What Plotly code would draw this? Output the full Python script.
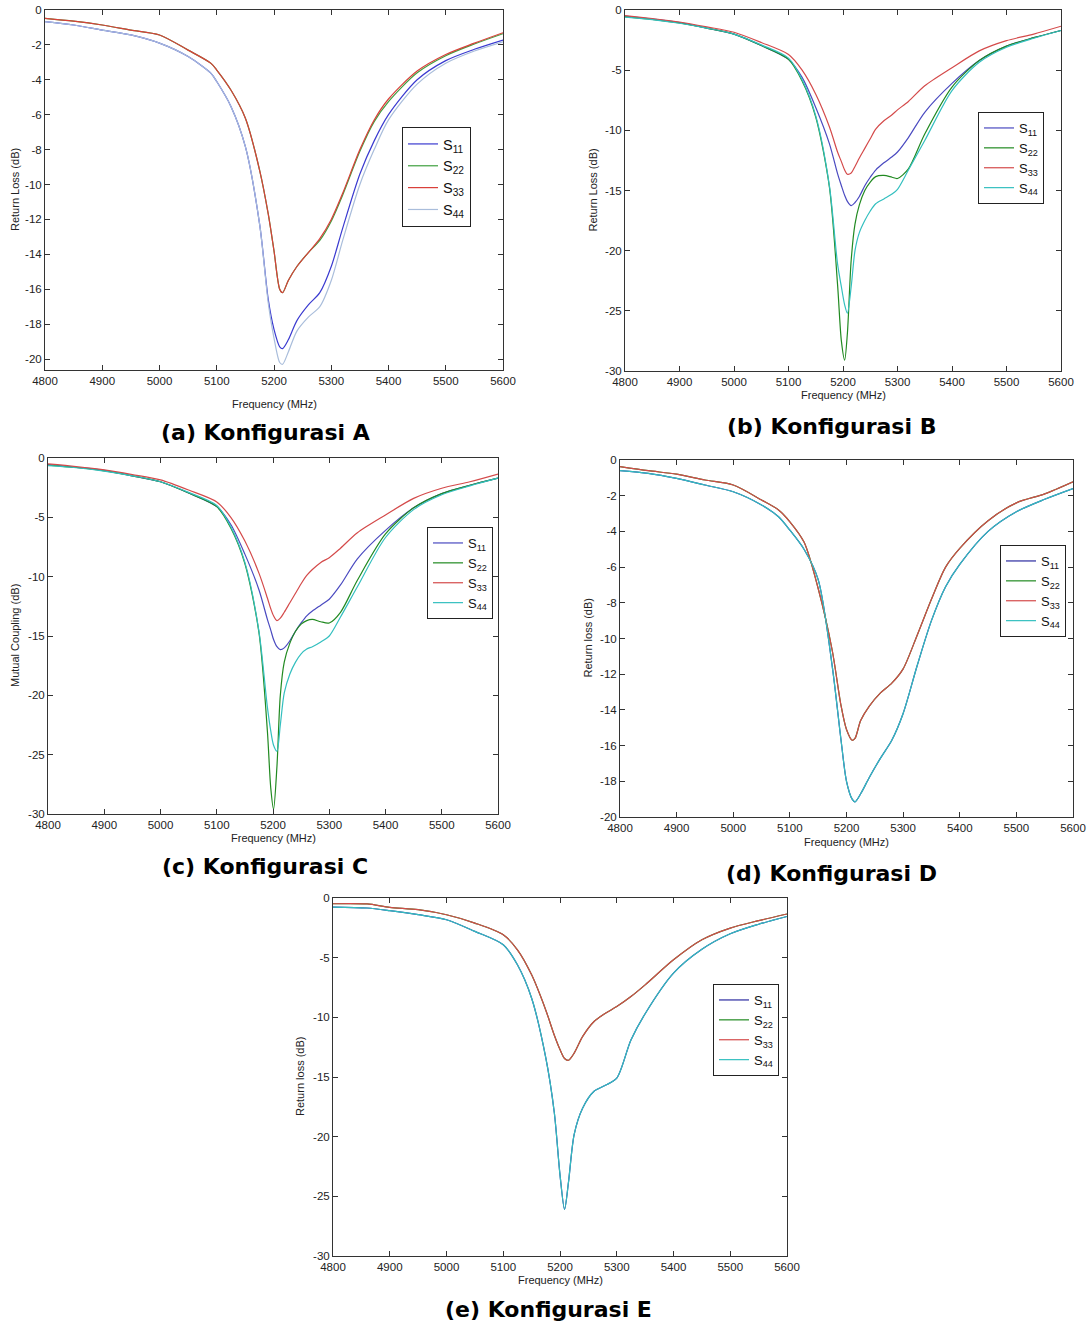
import plotly.graph_objects as go

W, H = 1091, 1324

# ---------------- Data ----------------
labels = ["S<sub>11</sub>", "S<sub>22</sub>", "S<sub>33</sub>", "S<sub>44</sub>"]
x_ticks = [4800, 4900, 5000, 5100, 5200, 5300, 5400, 5500, 5600]
y_ticks_20 = [0, -2, -4, -6, -8, -10, -12, -14, -16, -18, -20]
y_ticks_30 = [0, -5, -10, -15, -20, -25, -30]

# Panel A
freq_a = [4800, 4850, 4900, 4950, 5000, 5050, 5090, 5100, 5125, 5150, 5175, 5190, 5200, 5210,
          5215, 5225, 5240, 5260, 5280, 5300, 5320, 5350, 5375, 5400, 5450, 5500, 5550, 5600]
a_s11 = [-0.67, -0.86, -1.15, -1.43, -1.9, -2.67, -3.63, -4.1, -5.54, -7.83, -12.3, -16.6, -18.3, -19.3,
         -19.4, -18.9, -17.8, -16.9, -16.2, -14.7, -12.5, -9.4, -7.5, -6.0, -4.0, -2.9, -2.25, -1.72]
a_s22 = [-0.48, -0.64, -0.86, -1.15, -1.43, -2.3, -3.06, -3.44, -4.6, -6.2, -9.2, -11.7, -13.8, -16.0,
         -16.2, -15.5, -14.7, -13.9, -13.2, -12.1, -10.6, -8.1, -6.4, -5.25, -3.6, -2.62, -1.95, -1.36]
a_s33 = [-0.48, -0.64, -0.86, -1.15, -1.43, -2.3, -3.06, -3.44, -4.6, -6.2, -9.2, -11.7, -13.8, -16.0,
         -16.2, -15.5, -14.7, -13.9, -13.1, -12.0, -10.5, -8.0, -6.3, -5.1, -3.5, -2.55, -1.9, -1.3]
a_s44 = [-0.67, -0.86, -1.15, -1.43, -1.9, -2.67, -3.63, -4.1, -5.54, -7.83, -12.3, -16.8, -18.8, -20.2,
         -20.3, -19.6, -18.4, -17.6, -17.0, -15.5, -13.2, -10.0, -8.0, -6.3, -4.25, -3.05, -2.35, -1.82]

# Panel B
freq_b = [4800, 4850, 4900, 4950, 5000, 5050, 5100, 5125, 5150, 5175, 5190, 5197, 5203, 5208, 5215,
          5222, 5230, 5240, 5250, 5260, 5275, 5290, 5300, 5320, 5350, 5400, 5450, 5500, 5550, 5600]
b_s11 = [-0.5, -0.75, -1.05, -1.5, -2.0, -2.95, -4.1, -5.6, -8.1, -11.1, -13.6, -14.6, -15.4, -15.9, -16.25,
         -16.0, -15.5, -14.6, -13.9, -13.3, -12.7, -12.2, -11.8, -10.6, -8.5, -6.1, -4.2, -3.0, -2.3, -1.7]
b_s22 = [-0.55, -0.78, -1.08, -1.5, -2.0, -2.95, -4.1, -5.9, -8.9, -14.7, -22.8, -27.5, -29.1, -26.9, -20.8,
         -17.8, -16.2, -15.0, -14.3, -13.85, -13.75, -13.9, -14.0, -13.2, -10.3, -6.4, -4.2, -3.0, -2.3, -1.7]
b_s33 = [-0.47, -0.72, -1.0, -1.4, -1.85, -2.7, -3.7, -5.0, -7.0, -9.7, -11.8, -12.6, -13.3, -13.65, -13.55,
         -13.0, -12.3, -11.5, -10.7, -9.9, -9.2, -8.7, -8.3, -7.6, -6.3, -4.8, -3.4, -2.55, -2.0, -1.35]
b_s44 = [-0.6, -0.8, -1.1, -1.5, -2.0, -2.9, -4.0, -5.8, -8.8, -14.6, -21.1, -23.0, -24.5, -25.2, -23.0,
         -20.0, -18.5, -17.5, -16.7, -16.1, -15.7, -15.3, -14.9, -13.3, -10.85, -6.7, -4.35, -3.1, -2.35, -1.7]

# Panel C
freq_c = [4800, 4850, 4900, 4950, 5000, 5050, 5100, 5125, 5150, 5175, 5190, 5196, 5201, 5207, 5213,
          5220, 5230, 5240, 5250, 5260, 5270, 5285, 5300, 5320, 5350, 5400, 5450, 5500, 5550, 5600]
c_s11 = [-0.55, -0.78, -1.05, -1.5, -2.0, -2.95, -4.1, -5.6, -8.1, -11.1, -13.6, -14.5, -15.3, -15.9, -16.15,
         -16.0, -15.4, -14.6, -13.9, -13.3, -12.9, -12.4, -11.9, -10.7, -8.5, -6.1, -4.2, -3.0, -2.3, -1.7]
c_s22 = [-0.6, -0.8, -1.08, -1.5, -2.0, -2.95, -4.1, -5.9, -8.9, -14.7, -23.0, -27.8, -29.6, -26.0, -20.0,
         -17.2, -15.6, -14.6, -14.0, -13.7, -13.6, -13.8, -13.9, -13.0, -10.3, -6.4, -4.2, -3.0, -2.3, -1.7]
c_s33 = [-0.5, -0.72, -1.0, -1.4, -1.85, -2.7, -3.7, -5.0, -7.0, -9.7, -11.8, -12.7, -13.3, -13.7, -13.5,
         -13.0, -12.2, -11.4, -10.6, -9.9, -9.4, -8.8, -8.4, -7.6, -6.3, -4.8, -3.4, -2.55, -2.0, -1.35]
c_s44 = [-0.65, -0.82, -1.1, -1.5, -2.0, -2.9, -4.0, -5.8, -8.8, -14.6, -21.0, -23.0, -24.2, -24.7, -22.5,
         -19.8, -18.2, -17.2, -16.5, -16.1, -15.9, -15.5, -15.0, -13.4, -10.85, -6.7, -4.35, -3.1, -2.35, -1.7]

# Panel D
freq_d = [4800, 4850, 4900, 4950, 5000, 5050, 5080, 5100, 5125, 5150, 5175, 5190, 5200, 5210,
          5215, 5225, 5240, 5260, 5280, 5300, 5325, 5350, 5375, 5400, 5450, 5500, 5550, 5600]
d_s44 = [-0.6, -0.75, -1.03, -1.4, -1.78, -2.52, -3.18, -3.93, -5.0, -6.7, -11.6, -15.6, -18.0, -19.0,
         -19.15, -18.7, -17.8, -16.7, -15.7, -14.2, -11.5, -9.0, -7.1, -5.85, -4.0, -2.9, -2.2, -1.6]
d_s11 = list(d_s44)   # S11 lies under S44 in the picture
d_s33 = [-0.37, -0.6, -0.79, -1.12, -1.4, -2.24, -2.8, -3.46, -4.6, -7.2, -10.7, -13.7, -15.1, -15.7,
         -15.6, -14.6, -13.8, -13.05, -12.5, -11.7, -9.8, -7.8, -6.0, -4.95, -3.4, -2.4, -1.9, -1.22]
d_s22 = list(d_s33)   # S22 lies under S33 in the picture

# Panel E
freq_e = [4800, 4860, 4900, 4950, 5000, 5050, 5100, 5125, 5150, 5175, 5190, 5200, 5208, 5215,
          5225, 5240, 5260, 5280, 5300, 5325, 5350, 5400, 5450, 5500, 5550, 5600]
e_s44 = [-0.76, -0.84, -1.06, -1.4, -1.82, -2.8, -3.92, -5.6, -8.4, -13.4, -18.0, -23.2, -26.1, -23.8,
         -19.8, -17.6, -16.2, -15.7, -15.1, -11.9, -9.7, -6.3, -4.3, -3.0, -2.2, -1.55]
e_s11 = list(e_s44)
e_s33 = [-0.48, -0.5, -0.78, -0.98, -1.4, -2.1, -3.08, -4.34, -6.44, -9.4, -11.5, -12.7, -13.45, -13.6,
         -13.0, -11.6, -10.35, -9.66, -9.1, -8.26, -7.28, -5.18, -3.5, -2.52, -1.9, -1.34]
e_s22 = list(e_s33)

panels = [
    dict(freq=freq_a, series=[a_s11, a_s22, a_s33, a_s44],
         colors=["#3a3ad0", "#3f9f3f", "#d9403a", "#a9bddb"],
         box=(45, 503, 10, 370), yrange=[-20.63, 0], yticks=y_ticks_20,
         ytitle="Return Loss (dB)", ytx=15, xty=404,
         title="(a) Konfigurasi A", tx=265, ty=433,
         leg=(402, 127), legfont=14.5),
    dict(freq=freq_b, series=[b_s11, b_s22, b_s33, b_s44],
         colors=["#4a4ac0", "#218a21", "#d44a4a", "#33bfbf"],
         box=(625, 1061, 10, 371), yrange=[-30, 0], yticks=y_ticks_30,
         ytitle="Return Loss (dB)", ytx=593, xty=395,
         title="(b) Konfigurasi B", tx=831, ty=426,
         leg=(978, 112), legfont=13),
    dict(freq=freq_c, series=[c_s11, c_s22, c_s33, c_s44],
         colors=["#4a4ac0", "#218a21", "#d44a4a", "#33bfbf"],
         box=(48, 498, 458, 814), yrange=[-30, 0], yticks=y_ticks_30,
         ytitle="Mutual Coupling (dB)", ytx=15, xty=838,
         title="(c) Konfigurasi C", tx=265, ty=866,
         leg=(427, 527), legfont=13),
    dict(freq=freq_d, series=[d_s11, d_s22, d_s33, d_s44],
         colors=["#2a2aa0", "#218a21", "#d44a4a", "#33bfbf"],
         box=(620, 1073, 460, 817), yrange=[-20, 0], yticks=y_ticks_20,
         ytitle="Return loss (dB)", ytx=588, xty=842,
         title="(d) Konfigurasi D", tx=831, ty=873,
         leg=(1000, 545), legfont=13),
    dict(freq=freq_e, series=[e_s11, e_s22, e_s33, e_s44],
         colors=["#2a2aa0", "#218a21", "#d44a4a", "#33bfbf"],
         box=(333, 787, 898, 1256), yrange=[-30, 0], yticks=y_ticks_30,
         ytitle="Return loss (dB)", ytx=300, xty=1280,
         title="(e) Konfigurasi E", tx=548, ty=1309,
         leg=(713, 984), legfont=13),
]

FONT = "Liberation Sans, Arial, sans-serif"
TITLEFONT = "DejaVu Sans, Verdana, sans-serif"


def px(x):   # page pixel -> paper fraction (x)
    return x / W


def py(y):   # page pixel -> paper fraction (y, measured from top)
    return 1 - y / H


fig = go.Figure()
layout = dict(width=W, height=H, margin=dict(l=0, r=0, t=0, b=0, autoexpand=False),
              template="none",
              paper_bgcolor="white", plot_bgcolor="white", showlegend=True)
annotations = []

for i, p in enumerate(panels):
    k = "" if i == 0 else str(i + 1)
    xa, ya = "x" + k, "y" + k
    legname = "legend" + k
    x0, x1, y0, y1 = p["box"]
    for j in range(4):
        fig.add_trace(go.Scatter(
            x=p["freq"], y=p["series"][j], mode="lines", name=labels[j],
            line=dict(color=p["colors"][j], width=1.2, shape="spline", smoothing=0.8),
            xaxis=xa, yaxis=ya, legend=legname, hoverinfo="skip"))
    axis_common = dict(showline=True, linecolor="#333", linewidth=1, mirror="ticks",
                       ticks="inside", ticklen=5, tickcolor="#333", showgrid=False,
                       zeroline=False, automargin=False, tickmode="array",
                       tickfont=dict(family=FONT, size=11.5, color="#222"))
    layout["xaxis" + k] = dict(domain=[px(x0), px(x1)], anchor=ya, range=[4800, 5600],
                               tickvals=x_ticks, ticktext=[str(v) for v in x_ticks],
                               **axis_common)
    layout["yaxis" + k] = dict(domain=[py(y1), py(y0)], anchor=xa, range=p["yrange"],
                               tickvals=p["yticks"], ticktext=[str(v) for v in p["yticks"]],
                               **axis_common)
    lx, ly = p["leg"]
    layout[legname] = dict(x=px(lx), y=py(ly), xanchor="left", yanchor="top",
                           bgcolor="white", bordercolor="#222", borderwidth=1,
                           font=dict(family=FONT, size=p["legfont"], color="#111"),
                           tracegroupgap=0, itemwidth=30)
    annotations.append(dict(text=p["ytitle"], x=px(p["ytx"]), y=py((y0 + y1) / 2),
                            xref="paper", yref="paper", showarrow=False, textangle=-90,
                            xanchor="center", yanchor="middle",
                            font=dict(family=FONT, size=11, color="#222")))
    annotations.append(dict(text="Frequency (MHz)", x=px((x0 + x1) / 2), y=py(p["xty"]),
                            xref="paper", yref="paper", showarrow=False,
                            xanchor="center", yanchor="middle",
                            font=dict(family=FONT, size=11, color="#222")))
    annotations.append(dict(text="<b>" + p["title"] + "</b>", x=px(p["tx"]), y=py(p["ty"]),
                            xref="paper", yref="paper", showarrow=False,
                            xanchor="center", yanchor="middle",
                            font=dict(family=TITLEFONT, size=22, color="black")))

layout["annotations"] = annotations
fig.update_layout(**layout)
# remove the page's default body margin so the figure sits at the window's top-left corner
fig.write_html("out.html", config={"displayModeBar": False},
               post_script="document.body.style.margin='0px';")
